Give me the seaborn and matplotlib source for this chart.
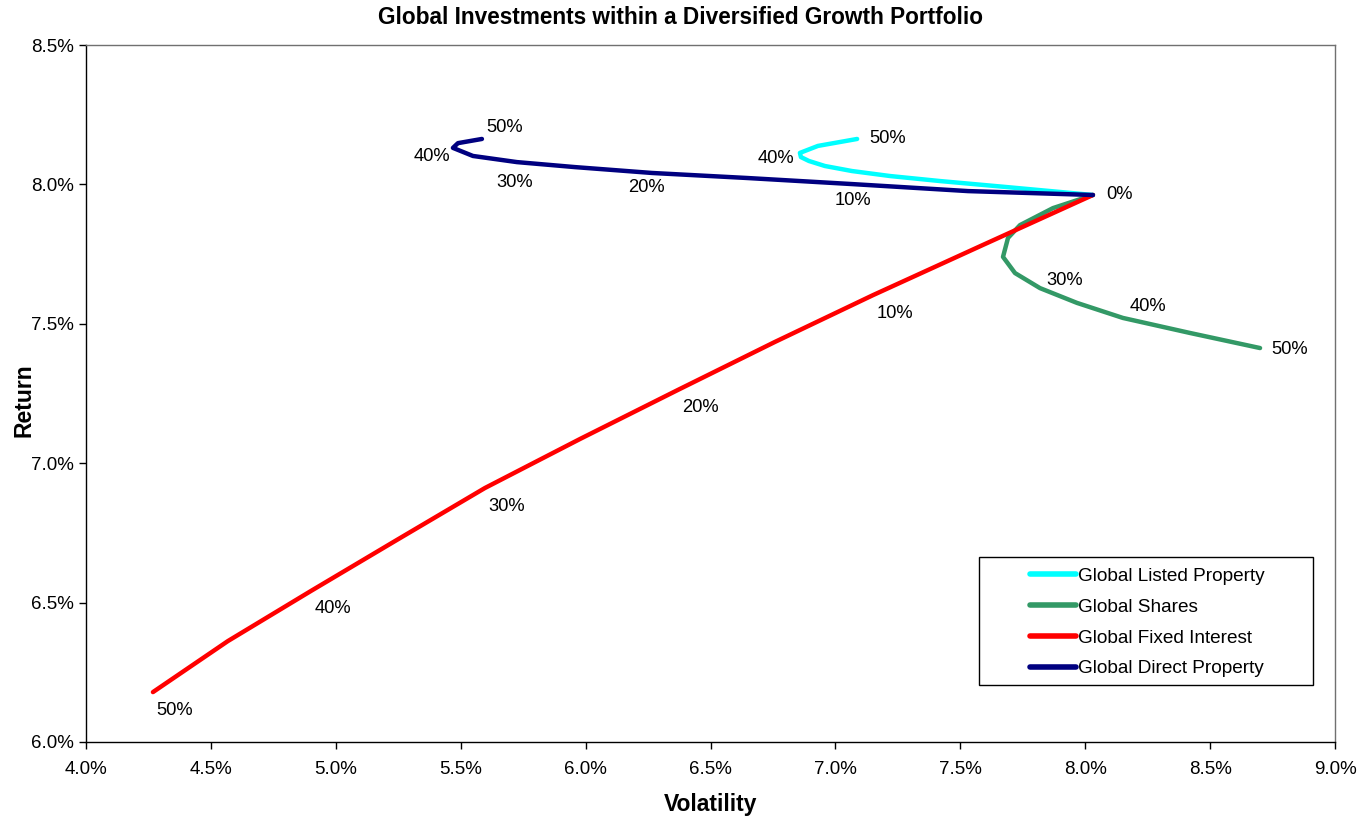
import numpy as np
import pandas as pd
import matplotlib
matplotlib.use("Agg")
import matplotlib.pyplot as plt
from matplotlib.patches import Rectangle
import seaborn as sns
from matplotlib.ticker import FuncFormatter

# Allocation steps (share of the portfolio switched into each global asset)
allocations = ["0%", "5%", "10%", "15%", "20%", "25%", "30%", "35%", "40%", "45%", "50%"]

series_names = ["Global Listed Property", "Global Shares",
                "Global Fixed Interest", "Global Direct Property"]

listed_vol = [8.031, 7.679, 7.419, 7.219, 7.066, 6.958, 6.894, 6.862, 6.858, 6.930, 7.087]
listed_ret = [7.962, 7.991, 8.012, 8.030, 8.048, 8.066, 8.084, 8.098, 8.113, 8.138, 8.163]

shares_vol = [8.031, 7.871, 7.739, 7.691, 7.671, 7.719, 7.819, 7.967, 8.151, 8.420, 8.700]
shares_ret = [7.962, 7.915, 7.854, 7.808, 7.740, 7.682, 7.628, 7.575, 7.521, 7.467, 7.413]

fixed_vol = [8.031, 7.591, 7.151, 6.758, 6.370, 5.978, 5.597, 5.245, 4.901, 4.568, 4.268]
fixed_ret = [7.962, 7.783, 7.603, 7.435, 7.263, 7.087, 6.911, 6.725, 6.542, 6.362, 6.179]

direct_vol = [8.031, 7.531, 7.070, 6.646, 6.266, 5.958, 5.725, 5.549, 5.469, 5.489, 5.585]
direct_ret = [7.962, 7.976, 8.001, 8.023, 8.041, 8.062, 8.080, 8.102, 8.131, 8.148, 8.163]

x_ticks = [4.0, 4.5, 5.0, 5.5, 6.0, 6.5, 7.0, 7.5, 8.0, 8.5, 9.0]
y_ticks = [6.0, 6.5, 7.0, 7.5, 8.0, 8.5]

colors = {"Global Listed Property": "#00FFFF",
          "Global Shares": "#339966",
          "Global Fixed Interest": "#FF0000",
          "Global Direct Property": "#000080"}

vols = [listed_vol, shares_vol, fixed_vol, direct_vol]
rets = [listed_ret, shares_ret, fixed_ret, direct_ret]

rows = []
for name, v, r in zip(series_names, vols, rets):
    for i, (a, b) in enumerate(zip(v, r)):
        rows.append({"series": name, "step": i, "alloc": allocations[i],
                     "Volatility": a, "Return": b})
df = pd.DataFrame(rows)

sns.set_theme(style="white")
plt.rcParams["font.family"] = ["Liberation Sans", "DejaVu Sans"]
plt.rcParams["text.color"] = "black"
plt.rcParams["axes.labelcolor"] = "black"
plt.rcParams["xtick.color"] = "black"
plt.rcParams["ytick.color"] = "black"

fig = plt.figure(figsize=(13.7, 8.19), dpi=100)
ax = fig.add_axes([86/1370, 1-742/819, (1335-86)/1370, (742-45)/819])

sns.lineplot(data=df, x="Volatility", y="Return", hue="series",
             hue_order=series_names, palette=colors, sort=False,
             estimator=None, linewidth=3.2, ax=ax, legend=True)

# data labels: (series, step index, offset pixels)
label_spec = [
    ("Global Direct Property", 0, (27, 0)),
    ("Global Fixed Interest", 2, (22, -18)),
    ("Global Fixed Interest", 4, (22, -18)),
    ("Global Fixed Interest", 6, (22, -18)),
    ("Global Fixed Interest", 8, (22, -18)),
    ("Global Fixed Interest", 10, (22, -18)),
    ("Global Shares", 6, (25, 8)),
    ("Global Shares", 8, (25, 11)),
    ("Global Shares", 10, (30, -1)),
    ("Global Listed Property", 8, (-24, -6)),
    ("Global Listed Property", 10, (31, 0)),
    ("Global Direct Property", 2, (0, -16)),
    ("Global Direct Property", 4, (-6, -15)),
    ("Global Direct Property", 6, (-2, -20)),
    ("Global Direct Property", 8, (-21, -9)),
    ("Global Direct Property", 10, (23, 11)),
]
for name, idx, off in label_spec:
    row = df[(df.series == name) & (df.step == idx)].iloc[0]
    ax.annotate(row["alloc"], (row["Volatility"], row["Return"]),
                xytext=off, textcoords="offset pixels",
                ha="center", va="center", fontsize=13.2, color="black")

ax.set_xlim(x_ticks[0], x_ticks[-1])
ax.set_ylim(y_ticks[0], y_ticks[-1])
ax.set_xticks(x_ticks)
ax.set_yticks(y_ticks)
ax.xaxis.set_major_formatter(FuncFormatter(lambda v, p: f"{v:.1f}%"))
ax.yaxis.set_major_formatter(FuncFormatter(lambda v, p: f"{v:.1f}%"))
ax.tick_params(axis="both", which="major", labelsize=13.5, length=5,
               width=1, direction="out", color="black", bottom=True, left=True)
ax.tick_params(axis="x", pad=9)
ax.tick_params(axis="y", pad=4)

for side in ["left", "bottom"]:
    ax.spines[side].set_color("black")
    ax.spines[side].set_linewidth(1)
for side in ["top", "right"]:
    ax.spines[side].set_color("#707070")
    ax.spines[side].set_linewidth(1)

ax.set_xlabel("Volatility", fontsize=16.5, fontweight="bold")
ax.set_ylabel("Return", fontsize=16.5, fontweight="bold")
ax.xaxis.label.set_va("center")
ax.yaxis.label.set_va("center")
ax.xaxis.set_label_coords(0.5004, (742-805)/697)
ax.yaxis.set_label_coords((24-86)/1249, (742-400)/697)

fig.text(680/1370, 1-17/819,
         "Global Investments within a Diversified Growth Portfolio",
         fontsize=16.3, fontweight="bold", ha="center", va="center")

# legend frame (drawn as a box, legend contents centred inside)
box = Rectangle(((979-86)/1249, (742-685)/697), (1313-979)/1249, (685-557)/697,
                transform=ax.transAxes, facecolor="white", edgecolor="black",
                linewidth=1, zorder=4)
ax.add_patch(box)

leg = ax.legend(loc="center", bbox_to_anchor=((1147.5-86)/1249, (742-622.5)/697),
                fontsize=13.7, frameon=False, handlelength=2.4,
                handletextpad=0.15, labelspacing=0.71, borderpad=0.0,
                title=None)
leg.set_zorder(5)
for line in leg.get_lines():
    line.set_linewidth(4)

fig.savefig("out.png", dpi=100, facecolor="white")
